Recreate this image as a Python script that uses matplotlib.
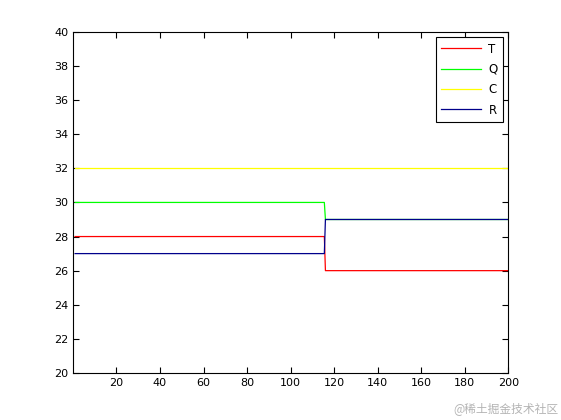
import matplotlib.pyplot as plt

# data
t = [1, 115.5, 116, 200]
T = [28, 28, 26, 26]
Q = [30, 30, 29, 29]
C = [32, 32, 32, 32]
R = [27, 27, 29, 29]
xticks = [20, 40, 60, 80, 100, 120, 140, 160, 180, 200]
yticks = [20, 22, 24, 26, 28, 30, 32, 34, 36, 38, 40]

fig = plt.figure(figsize=(5.61, 4.2), dpi=100)
ax = fig.add_axes([0.130, 0.112, 0.776, 0.812])

ax.plot(t, T, color='#ff0000', lw=0.9, label='T')
ax.plot(t, Q, color='#00ff00', lw=0.9, label='Q')
ax.plot(t, C, color='#ffff00', lw=0.9, label='C')
ax.plot(t, R, color='#00008b', lw=0.9, label='R')

ax.set_xlim(0, 200)
ax.set_ylim(20, 40)
ax.set_xticks(xticks)
ax.set_yticks(yticks)
ax.tick_params(direction='in', top=True, right=True, labelsize=8, length=4, width=0.8)
for s in ax.spines.values():
    s.set_linewidth(0.8)

leg = ax.legend(loc='upper right', fontsize=8.5, fancybox=False, framealpha=1,
                edgecolor='black', borderpad=0.45, handlelength=3.4, labelspacing=0.62,
                handletextpad=0.6, borderaxespad=0.45)
leg.get_frame().set_linewidth(0.8)

fig.text(0.995, 0.012, '@稀土掘金技术社区', ha='right', va='bottom', fontsize=8.5,
         color='#b4b4b4', family=['Noto Sans CJK SC', 'DejaVu Sans'])

fig.savefig('out.png', dpi=100)
